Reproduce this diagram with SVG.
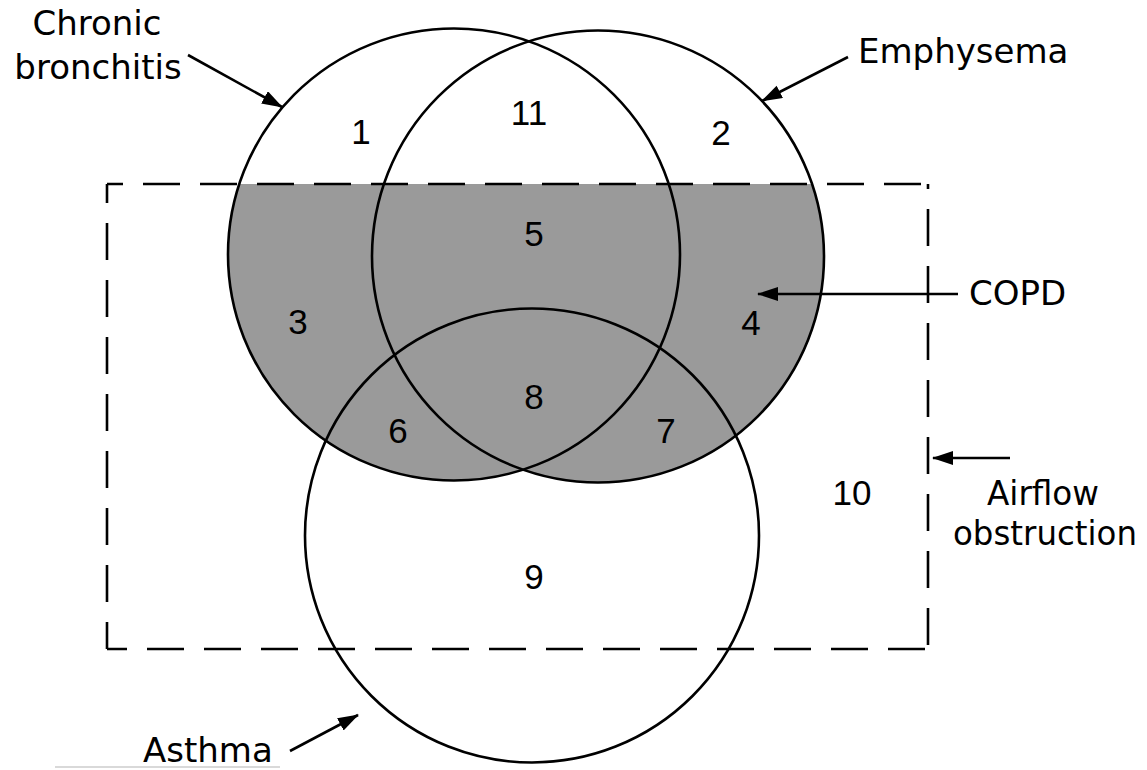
<svg xmlns="http://www.w3.org/2000/svg" width="1147" height="770" viewBox="0 0 1147 770">
<style>
.ring{fill:none;stroke:#000;stroke-width:2.6}
.dash{fill:none;stroke:#000;stroke-width:2.6;stroke-dasharray:37 20}
.lbl{font-family:"DejaVu Sans",sans-serif;font-size:34px;fill:#000}
.num{font-family:"Liberation Sans",Arial,sans-serif;font-size:35px;fill:#000;text-anchor:middle}
.arr{fill:none;stroke:#000;stroke-width:2.6;marker-end:url(#ah)}
</style>
<defs>
<marker id="ah" markerUnits="userSpaceOnUse" markerWidth="22" markerHeight="16" refX="20" refY="7" orient="auto">
<path d="M0,0 L21,7 L0,14 z" fill="#000"/>
</marker>
<clipPath id="obs"><rect x="0" y="184" width="1147" height="586"/></clipPath>
</defs>
<rect width="1147" height="770" fill="#fff"/>
<g id="copd">
<g clip-path="url(#obs)" fill="#9a9a9a">
<circle cx="454" cy="254.5" r="226"/>
<circle cx="598" cy="256.5" r="226"/>
</g>
</g>
<g id="airflow-obstruction">
<path class="dash" style="stroke-dashoffset:21" d="M107,184 H928"/>
<path class="dash" style="stroke-dashoffset:18" d="M107,184 V649"/>
<path class="dash" style="stroke-dashoffset:17" d="M107,649 H928"/>
<path class="dash" style="stroke-dashoffset:-4" d="M928,649 V184"/>
</g>
<g id="chronic-bronchitis">
<circle class="ring" cx="454" cy="254.5" r="226"/>
</g>
<g id="emphysema">
<circle class="ring" cx="598" cy="256.5" r="226"/>
</g>
<g id="asthma">
<circle class="ring" cx="532" cy="535.5" r="227"/>
</g>
<g id="regions">
<text class="num" x="361" y="144">1</text>
<text class="num" x="721" y="145">2</text>
<text class="num" x="298" y="334">3</text>
<text class="num" x="751" y="335">4</text>
<text class="num" x="534" y="246">5</text>
<text class="num" x="398" y="443">6</text>
<text class="num" x="666" y="443">7</text>
<text class="num" x="534" y="409">8</text>
<text class="num" x="534" y="589">9</text>
<text class="num" x="852" y="505">10</text>
<text class="num" x="529" y="125">11</text>
</g>
<g id="labels">
<text class="lbl" x="97" y="35" text-anchor="middle">Chronic</text>
<text class="lbl" x="98" y="79" text-anchor="middle">bronchitis</text>
<text class="lbl" x="858" y="63">Emphysema</text>
<text class="lbl" x="969" y="305">COPD</text>
<text class="lbl" x="1043" y="505" text-anchor="middle" textLength="112" lengthAdjust="spacingAndGlyphs">Airflow</text>
<text class="lbl" x="1045" y="545" text-anchor="middle" textLength="184" lengthAdjust="spacingAndGlyphs">obstruction</text>
<text class="lbl" x="143" y="762">Asthma</text>
</g>
<g id="connectors">
<line class="arr" x1="188" y1="55" x2="282" y2="107"/>
<line class="arr" x1="848" y1="57" x2="762" y2="101"/>
<line class="arr" x1="958" y1="294" x2="758" y2="294"/>
<line class="arr" x1="1010" y1="458" x2="933" y2="458"/>
<line class="arr" x1="290" y1="751" x2="358" y2="715"/>
</g>
<line x1="55" y1="767" x2="280" y2="767" stroke="#cccccc" stroke-width="1.5"/>
</svg>
